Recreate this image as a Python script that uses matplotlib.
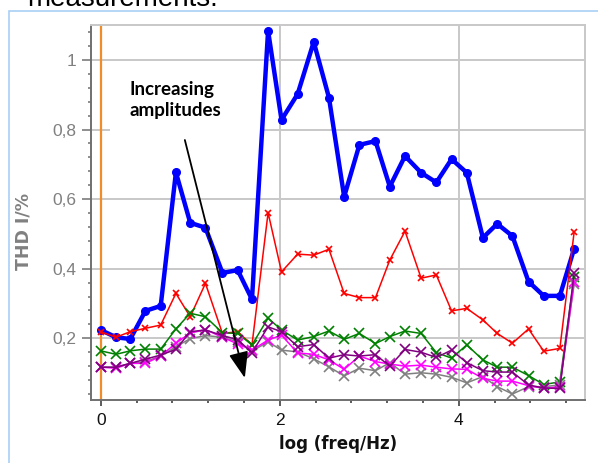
import matplotlib
matplotlib.use("Agg")
import matplotlib.pyplot as plt
from matplotlib.ticker import MultipleLocator, FixedLocator
from matplotlib.patches import Rectangle

# ---- data ----
log_freq = [0.00, 0.17, 0.33, 0.50, 0.67, 0.84, 1.00, 1.17, 1.36, 1.53, 1.69,
            1.87, 2.02, 2.20, 2.38, 2.55, 2.72, 2.89, 3.07, 3.23, 3.40, 3.58,
            3.75, 3.92, 4.09, 4.27, 4.43, 4.60, 4.78, 4.95, 5.13, 5.29]

thd_blue = [0.224, 0.203, 0.198, 0.279, 0.293, 0.677, 0.532, 0.518, 0.388, 0.396, 0.312,
            1.084, 0.828, 0.902, 1.052, 0.892, 0.607, 0.756, 0.767, 0.636, 0.724, 0.676,
            0.648, 0.715, 0.676, 0.489, 0.529, 0.494, 0.363, 0.322, 0.322, 0.458]
thd_red = [0.219, 0.203, 0.219, 0.229, 0.238, 0.329, 0.262, 0.358, 0.214, 0.219, 0.181,
           0.561, 0.391, 0.442, 0.439, 0.456, 0.329, 0.317, 0.317, 0.425, 0.508, 0.373,
           0.382, 0.279, 0.286, 0.253, 0.214, 0.186, 0.227, 0.163, 0.171, 0.506]
thd_green = [0.164, 0.154, 0.164, 0.169, 0.169, 0.227, 0.272, 0.262, 0.216, 0.214, 0.181,
             0.258, 0.224, 0.195, 0.205, 0.221, 0.197, 0.214, 0.185, 0.205, 0.221, 0.214,
             0.159, 0.143, 0.181, 0.138, 0.117, 0.117, 0.093, 0.067, 0.075, 0.377]
thd_purple = [0.117, 0.117, 0.128, 0.140, 0.152, 0.168, 0.219, 0.224, 0.208, 0.196, 0.159,
              0.233, 0.219, 0.176, 0.182, 0.143, 0.153, 0.149, 0.153, 0.120, 0.168, 0.160,
              0.145, 0.166, 0.130, 0.107, 0.103, 0.103, 0.066, 0.057, 0.056, 0.387]
thd_magenta = [0.117, 0.114, 0.128, 0.128, 0.149, 0.186, 0.215, 0.225, 0.203, 0.184, 0.166,
               0.195, 0.209, 0.158, 0.154, 0.138, 0.111, 0.149, 0.133, 0.126, 0.120, 0.123,
               0.117, 0.112, 0.111, 0.085, 0.077, 0.077, 0.064, 0.056, 0.061, 0.363]
thd_gray = [0.117, 0.117, 0.128, 0.133, 0.149, 0.176, 0.199, 0.208, 0.203, 0.190, 0.163,
            0.190, 0.166, 0.161, 0.141, 0.118, 0.092, 0.114, 0.107, 0.130, 0.097, 0.101,
            0.097, 0.088, 0.072, 0.090, 0.061, 0.040, 0.061, 0.061, 0.066, 0.357]

x_ticks = [0, 2, 4]
y_ticks = [0.2, 0.4, 0.6, 0.8, 1.0]
y_tick_labels = ["0,2", "0,4", "0,6", "0,8", "1"]
annotation_text = "Increasing\namplitudes"
x_label = "log (freq/Hz)"
y_label = "THD I/%"
cut_title = "measurements."

# ---- figure ----
fig = plt.figure(figsize=(5.98, 4.63), dpi=100)

# cut-off caption text at the very top and the light blue frame
fig.text(27 / 598, 1 - 6 / 463, cut_title, fontsize=20, family="Liberation Sans",
         color="black", ha="left", va="baseline")
fig.add_artist(Rectangle((9 / 598, -0.1), 2.0, (463 - 11) / 463 + 0.1,
                         transform=fig.transFigure, fill=False,
                         edgecolor="#a9d0f5", linewidth=1.2))

ax = fig.add_axes([90.7 / 598, (463 - 400) / 463, (585 - 90.7) / 598, (400 - 25) / 463])
ax.set_xlim(-0.112, 5.411)
ax.set_ylim(0.0227, 1.1006)

grid_col = "#c8c8c8"
ax.grid(True, which="major", color=grid_col, linewidth=1.4, zorder=0)
ax.set_axisbelow(True)

for s in ["top", "right"]:
    ax.spines[s].set_color(grid_col)
    ax.spines[s].set_linewidth(1.4)
for s in ["left", "bottom"]:
    ax.spines[s].set_color("#707070")
    ax.spines[s].set_linewidth(1.4)

ax.xaxis.set_major_locator(FixedLocator(x_ticks))
ax.xaxis.set_minor_locator(MultipleLocator(0.4))
ax.yaxis.set_major_locator(FixedLocator(y_ticks))
ax.set_yticklabels(y_tick_labels)
ax.yaxis.set_minor_locator(MultipleLocator(0.04))
ax.tick_params(axis="x", which="major", direction="out", length=4.5, width=1.1,
               color="#303030", labelsize=12.5, labelcolor="#111111", pad=5)
ax.tick_params(axis="x", which="minor", direction="out", length=2.4, width=1.1, color="#303030")
ax.tick_params(axis="y", which="major", direction="out", length=6.5, width=1.1,
               color="#707070", labelsize=12.5, labelcolor="#808080", pad=4)
ax.tick_params(axis="y", which="minor", direction="out", length=2.4, width=1.1, color="#707070")
for lab in ax.get_xticklabels() + ax.get_yticklabels():
    lab.set_family("Liberation Sans")

ax.set_xlabel(x_label, fontsize=12, fontweight="bold", family="DejaVu Sans",
              color="#111111", labelpad=5)
ax.set_ylabel(y_label, fontsize=12.5, fontweight="bold", family="DejaVu Sans",
              color="#808080")
ax.yaxis.set_label_coords(-0.118, 0.45)

# orange reference line at x = 0
ax.axvline(0, color="#f28c28", linewidth=1.6, zorder=1)

# white box behind the annotation text
ax.add_patch(Rectangle((0.039, 0.59), 0.31, 0.29, transform=ax.transAxes,
                       facecolor="white", edgecolor="none", zorder=1.5))

ax.plot(log_freq, thd_blue, color="#0000ff", linewidth=3.2, marker="o",
        markersize=5.5, zorder=3)
ax.plot(log_freq, thd_red, color="#ff0000", linewidth=1.1, marker="x",
        markersize=4.5, markeredgewidth=1.2, zorder=4)
ax.plot(log_freq, thd_green, color="#008000", linewidth=1.1, marker="x",
        markersize=7, markeredgewidth=1.2, zorder=4)
ax.plot(log_freq, thd_gray, color="#808080", linewidth=1.1, marker="x",
        markersize=7, markeredgewidth=1.2, zorder=4)
ax.plot(log_freq, thd_magenta, color="#ff00ff", linewidth=1.1, marker="x",
        markersize=7, markeredgewidth=1.2, zorder=4)
ax.plot(log_freq, thd_purple, color="#800080", linewidth=1.1, marker="x",
        markersize=7, markeredgewidth=1.2, zorder=4)

# annotation text and arrow
ax.text(0.32, 0.94, annotation_text, fontsize=13.5, fontweight="bold", family="Lato",
        color="black", ha="left", va="top", linespacing=1.3, zorder=5)
ax.annotate("", xy=(1.61, 0.086), xytext=(0.94, 0.770),
            arrowprops=dict(arrowstyle="-|>,head_length=1.6,head_width=0.6",
                            color="black", linewidth=1.3, shrinkA=0, shrinkB=0),
            zorder=6)

fig.savefig("out.png", dpi=100)
